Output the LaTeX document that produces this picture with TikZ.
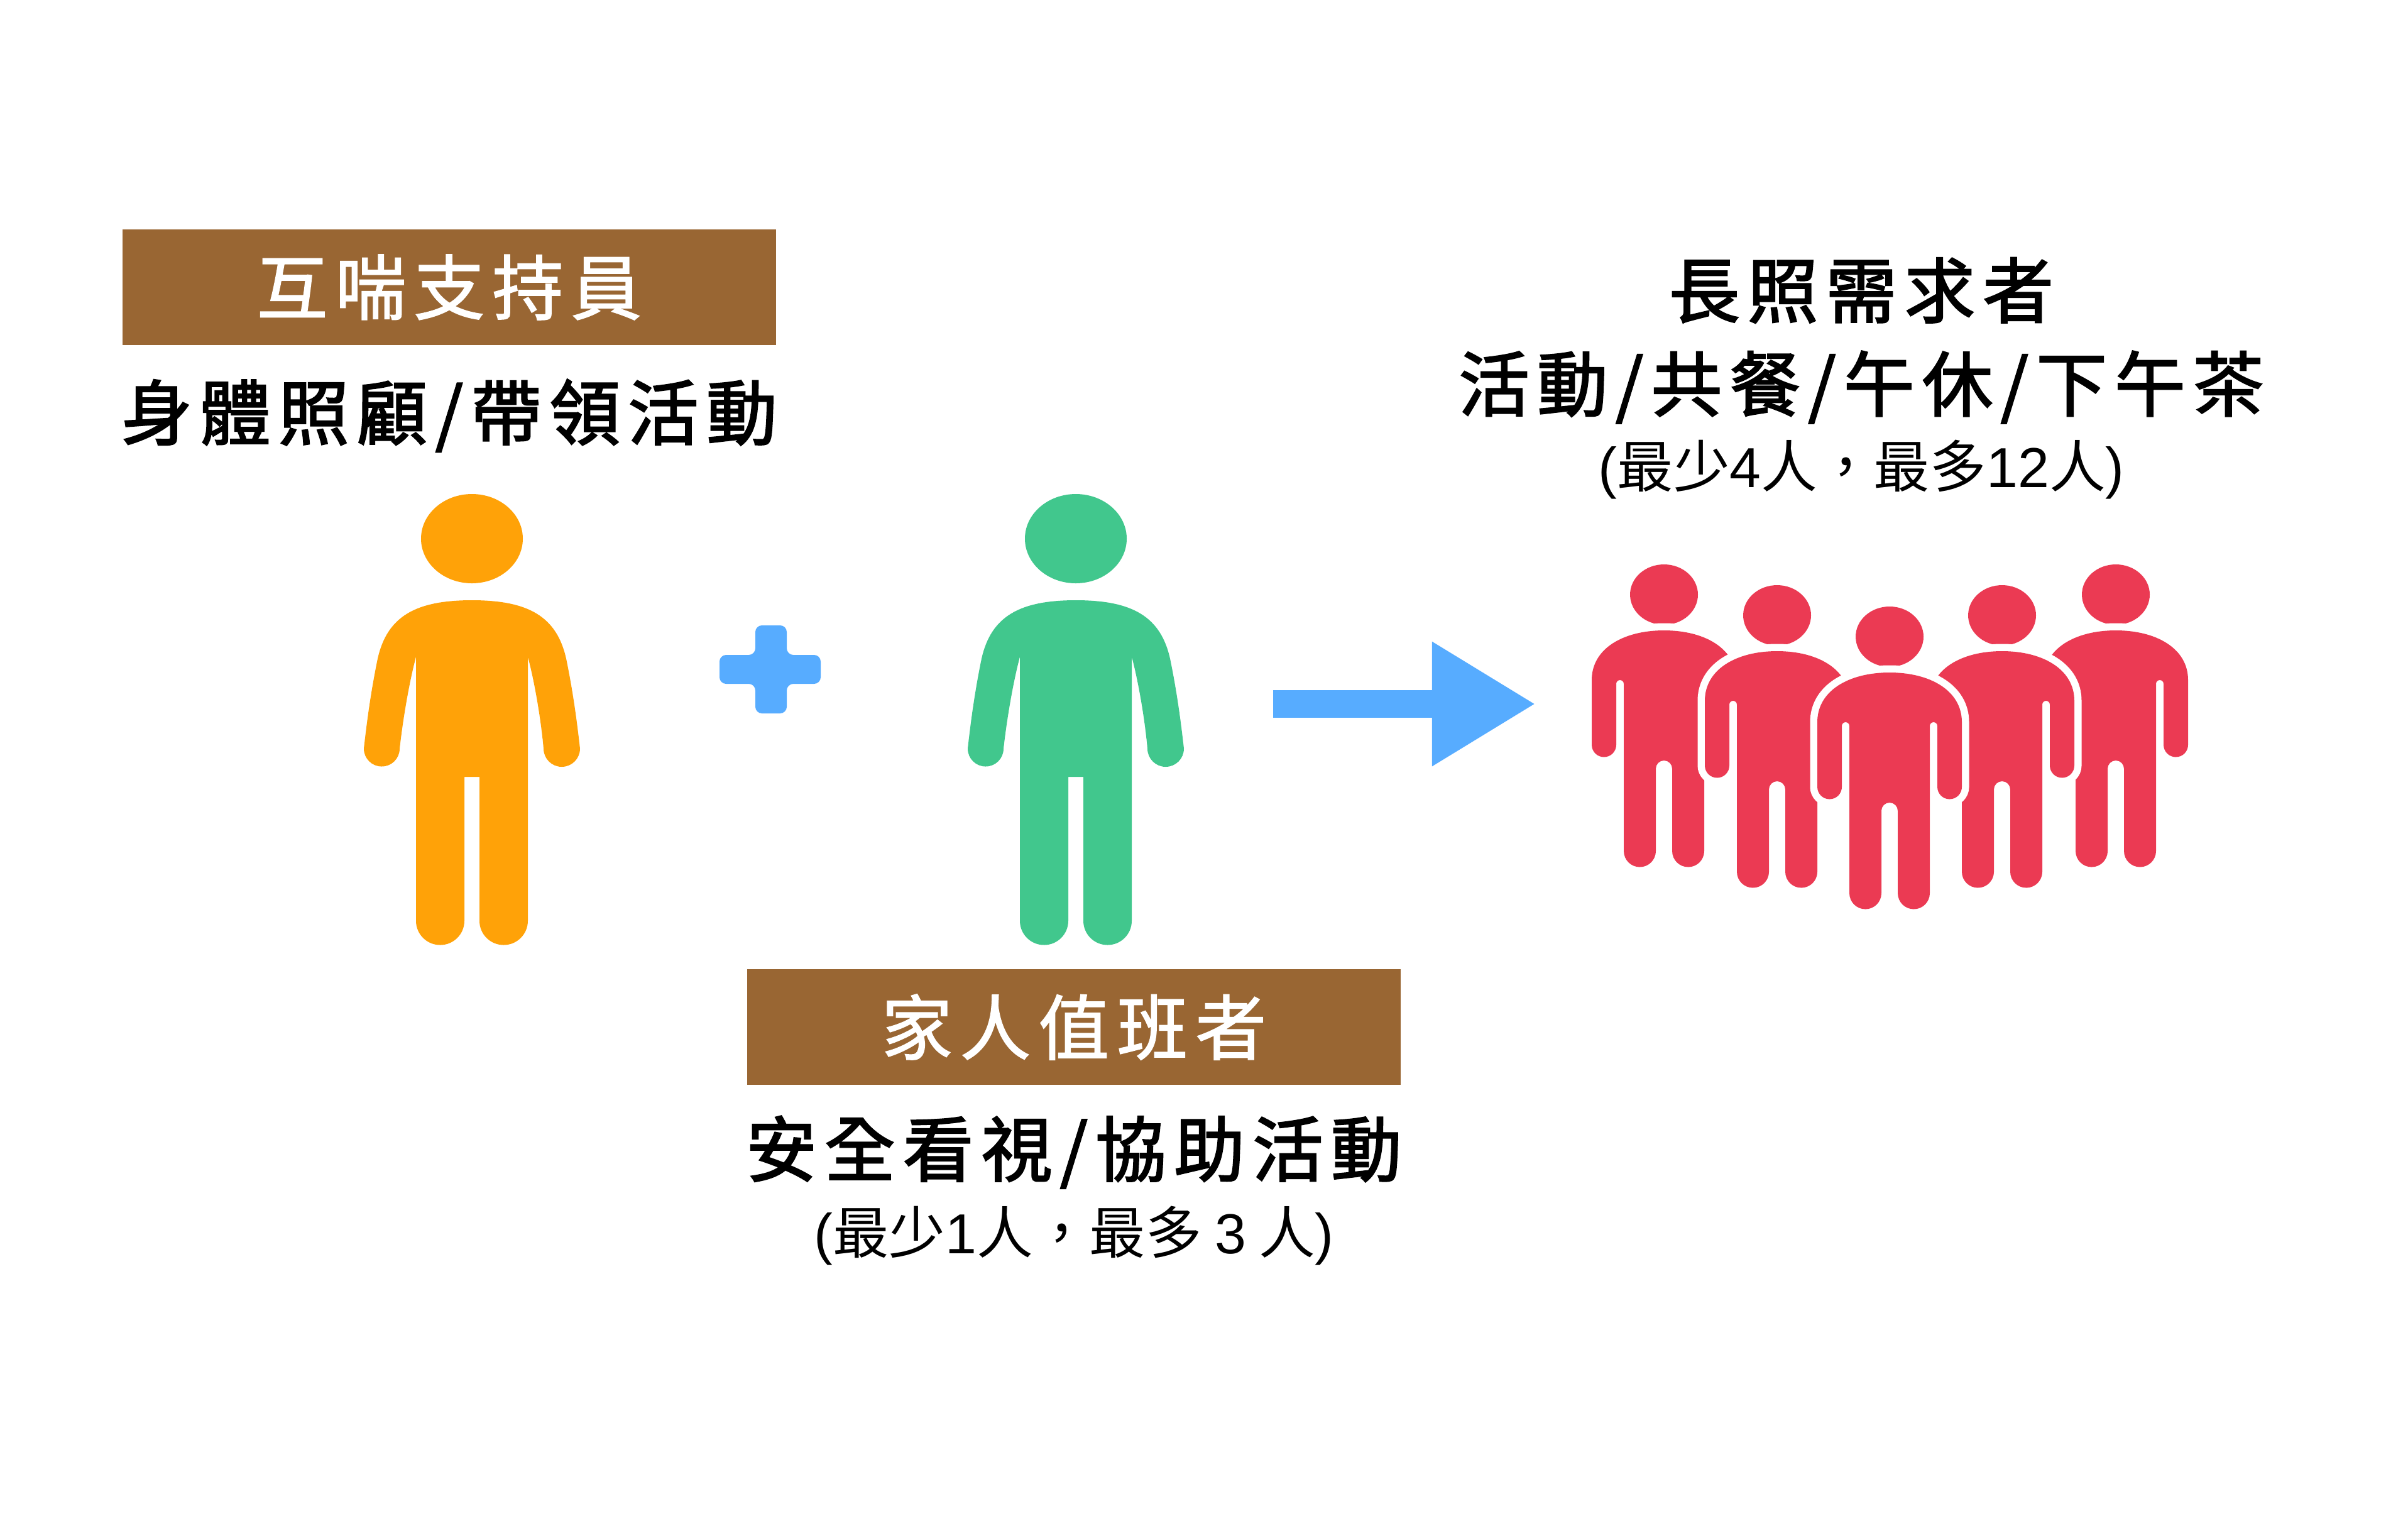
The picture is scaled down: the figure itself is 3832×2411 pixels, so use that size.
\documentclass[tikz,border=0pt]{standalone}
\usepackage{fontspec}
\usetikzlibrary{positioning}
\usetikzlibrary{arrows.meta}
\newfontfamily\cjkhdr[LetterSpace=11,FakeBold=1.6]{Noto Sans CJK TC}
\newfontfamily\cjkjob[LetterSpace=11,FakeBold=2.2]{Noto Sans CJK TC}
\newfontfamily\cjkcnt[Language=Chinese Traditional]{Noto Sans CJK TC}
\newfontfamily\latn{Liberation Sans}
\newcommand{\lat}[1]{{\latn #1}}
\definecolor{boxbrown}{HTML}{996633}
\definecolor{manorange}{HTML}{FFA208}
\definecolor{mangreen}{HTML}{41C78D}
\definecolor{manred}{HTML}{EB3A53}
\definecolor{linkblue}{HTML}{57ACFF}
\tikzset{hdr/.style={fill=boxbrown,text=white,minimum width=10.4cm,minimum height=1.84cm,inner sep=0pt,font=\cjkhdr\fontsize{32}{38}\selectfont}}
\tikzset{job/.style={inner sep=0pt,font=\cjkjob\fontsize{32}{38}\selectfont}}
\tikzset{cnt/.style={inner sep=0pt,font=\cjkcnt\fontsize{25.5}{30}\selectfont}}
\tikzset{halo/.style={preaction={draw=white,line width=0.23cm}}}
\tikzset{person/.pic={
\fill[personlook] (0,-71) ellipse (81 and 71);
\fill[personlook] (0,-169)
 .. controls (90,-169) and (135,-195) .. (150,-262)
 .. controls (162,-320) and (168,-370) .. (172,-405)
 arc (0:-180:29)
 .. controls (110,-360) and (100,-300) .. (89,-259)
 -- (89,-679) arc (0:-180:38.5) -- (12,-450) -- (-12,-450)
 -- (-12,-679) arc (0:-180:38.5) -- (-89,-259)
 .. controls (-100,-300) and (-110,-360) .. (-115,-405)
 arc (0:-180:28.5)
 .. controls (-168,-370) and (-162,-320) .. (-150,-262)
 .. controls (-135,-195) and (-90,-169) .. (0,-169) -- cycle;
}}
\tikzset{crowdman/.pic={
\fill[manred] (0,-48) ellipse (54 and 48);
\fill[manred,halo] (0,-105)
 .. controls (65,-105) and (115,-134) .. (115,-184)
 -- (115,-287) arc (0:-180:19.5) -- (76,-190) arc (0:180:6)
 -- (64,-456) arc (0:-180:25.5) -- (13,-325) arc (0:180:13)
 -- (-13,-456) arc (0:-180:25.5) -- (-64,-190) arc (0:180:6)
 -- (-76,-287) arc (0:-180:19.5) -- (-115,-184)
 .. controls (-115,-134) and (-65,-105) .. (0,-105) -- cycle;
}}
\begin{document}
\begin{tikzpicture}[x=0.01cm,y=0.01cm]
\useasboundingbox (0,0) rectangle (3832,-2411);
\fill[white] (0,0) rectangle (3832,-2411);

\node (hdrA) [hdr] at (715,-457) {互喘支持員};
\node (jobA) [job, below=0.53cm of hdrA] {身體照顧/帶領活動};

\node (hdrB) [hdr] at (1709,-1634) {家人值班者};
\node (jobB) [job, below=0.48cm of hdrB] {安全看視/協助活動};
\node (cntB) [cnt, below=0.27cm of jobB] {\lat{(}最少\lat{1}人，最多 \lat{3} 人\lat{)}};

\node (jobC) [job] at (2962,-462) {長照需求者};
\node (actC) [job, below=0.43cm of jobC] {活動/共餐/午休/下午茶};
\node (cntC) [cnt, below=0.25cm of actC] {\lat{(}最少\lat{4}人，最多\lat{12}人\lat{)}};

\pic (orangeman) [personlook/.style={fill=manorange}] at (751,-786) {person};
\pic (greenman) [personlook/.style={fill=mangreen}] at (1712,-786) {person};

\fill[linkblue,rounded corners=3pt] (1202,-995) -- (1252,-995) -- (1252,-1042) -- (1306,-1042) -- (1306,-1088) -- (1252,-1088) -- (1252,-1135) -- (1202,-1135) -- (1202,-1088) -- (1145,-1088) -- (1145,-1042) -- (1202,-1042) -- cycle;

\coordinate (arrowS) at (2026,-1120);
\coordinate (arrowE) at (2444,-1120);
\draw[linkblue,line width=0.44cm,-{Triangle[length=1.65cm,width=1.86cm]}] (arrowS) -- (arrowE);

\foreach \i/\px/\py in {1/2648/898,5/3367/898,2/2828/931,4/3186/931,3/3007/965}
  \pic (redman\i) at (\px,-\py) {crowdman};
\end{tikzpicture}
\end{document}
